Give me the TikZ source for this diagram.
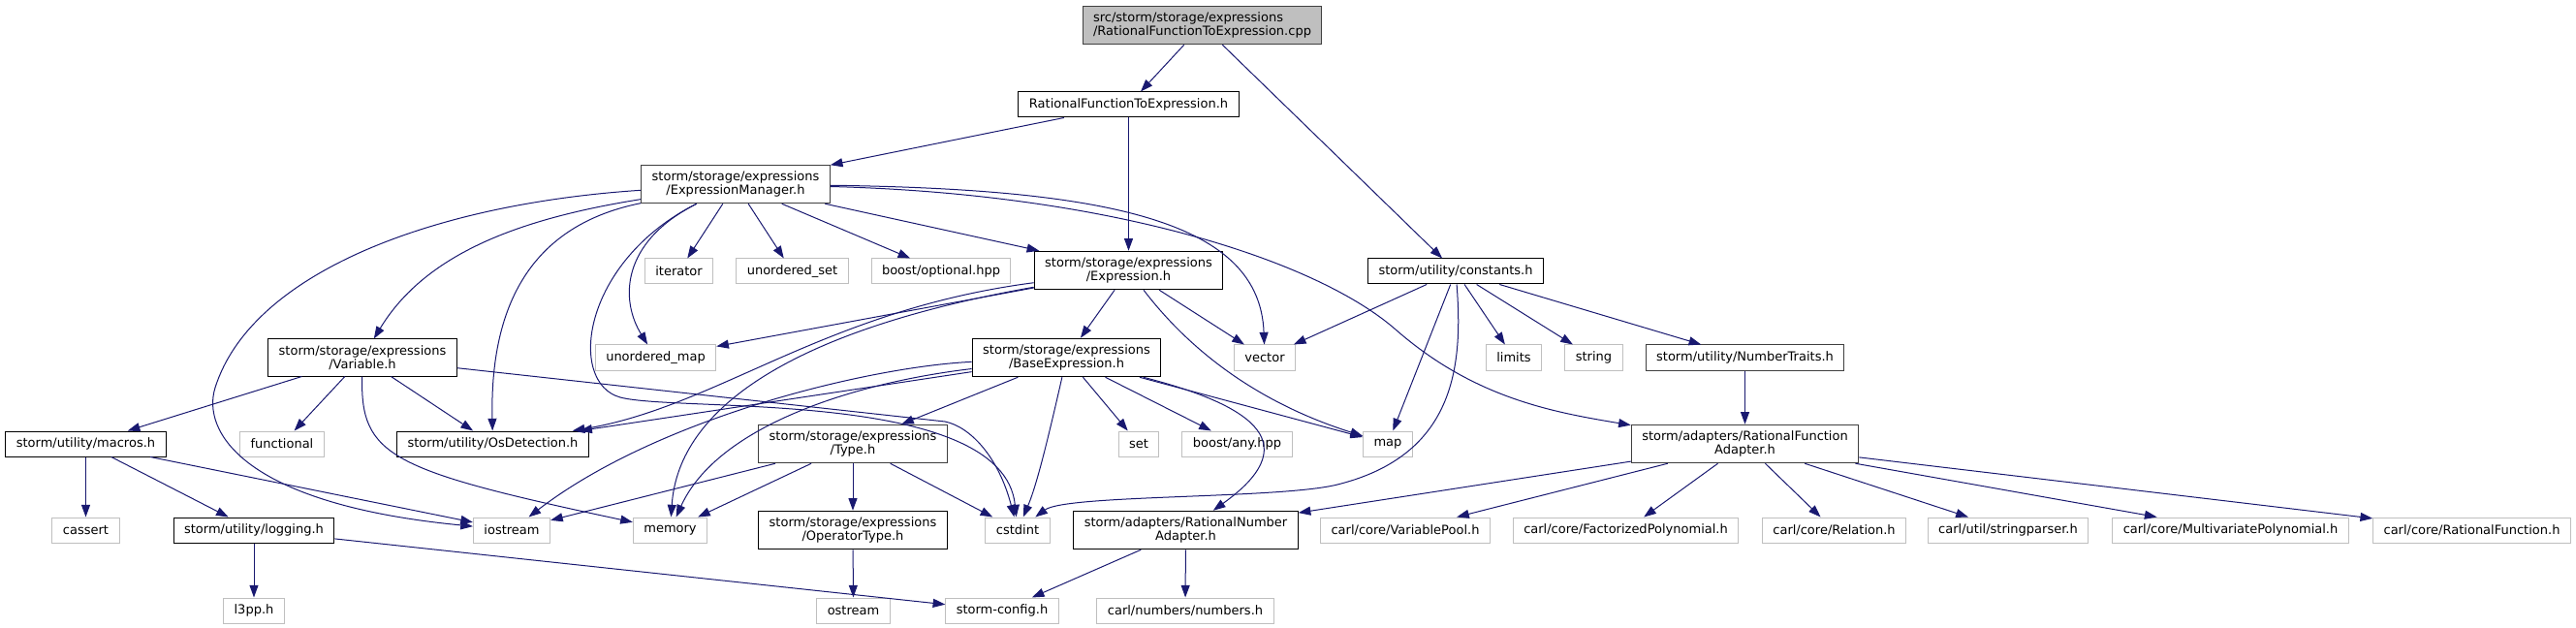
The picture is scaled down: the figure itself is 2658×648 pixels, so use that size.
\documentclass[tikz,border=0pt]{standalone}
\usepackage{xcolor}
\usepackage{fontspec}
\setmainfont{DejaVu Sans}
\usepackage{tikz}
\usetikzlibrary{arrows.meta}
\definecolor{edgeblue}{HTML}{191970}
\definecolor{rimgrey}{HTML}{404040}
\definecolor{extgrey}{HTML}{BFBFBF}

\begin{document}
\begin{tikzpicture}[
    x=0.75pt, y=-0.75pt,
    file/.style={draw, line width=0.75pt, inner xsep=8.25pt, inner ysep=4.6pt, minimum height=19.5pt, font=\fontsize{9.75}{11}\selectfont, align=center},
    hdr/.style={file, draw=black},
    hdrg/.style={file, draw=rimgrey},
    ext/.style={file, draw=extgrey},
    src/.style={file, draw=rimgrey, fill=extgrey, align=left},
    inc/.style={draw=edgeblue, line width=0.75pt, -{Triangle[length=9.5pt, width=6.75pt]}},
]
    \useasboundingbox (0, 0) rectangle (2658, 648);

    \node[src] (root) at (1240.5, 26) {src/storm/storage/expressions\\/RationalFunctionToExpression.cpp};

    \node[hdr] (rfte) at (1164.5, 108) {RationalFunctionToExpression.h};

    \node[hdrg] (em) at (759, 190) {storm/storage/expressions\\/ExpressionManager.h};

    \node[ext] (iterator) at (700.5, 280) {iterator};
    \node[ext] (uset) at (817.5, 280) {unordered\_set};
    \node[ext] (boostopt) at (971, 280) {boost/optional.hpp};
    \node[hdr] (expr) at (1164.5, 279) {storm/storage/expressions\\/Expression.h};
    \node[hdr] (constants) at (1502, 280) {storm/utility/constants.h};

    \node[hdr] (var) at (374, 369) {storm/storage/expressions\\/Variable.h};
    \node[ext] (umap) at (676.5, 369) {unordered\_map};
    \node[hdr] (baseexpr) at (1100.5, 369) {storm/storage/expressions\\/BaseExpression.h};
    \node[ext] (vector) at (1305, 369) {vector};
    \node[ext] (limits) at (1562, 369) {limits};
    \node[ext] (string) at (1644.5, 369) {string};
    \node[hdrg] (numtraits) at (1800.5, 369) {storm/utility/NumberTraits.h};

    \node[hdr] (macros) at (88.5, 458) {storm/utility/macros.h};
    \node[ext] (functional) at (291, 458) {functional};
    \node[hdr] (osdet) at (508.5, 458) {storm/utility/OsDetection.h};
    \node[hdrg] (type) at (880, 458) {storm/storage/expressions\\/Type.h};
    \node[ext] (set) at (1175, 458) {set};
    \node[ext] (boostany) at (1276.5, 458) {boost/any.hpp};
    \node[ext] (map) at (1432, 458) {map};
    \node[hdrg] (rfa) at (1800.5, 458) {storm/adapters/RationalFunction\\Adapter.h};

    \node[ext] (cassert) at (88.5, 547) {cassert};
    \node[hdr] (logging) at (262, 547) {storm/utility/logging.h};
    \node[ext] (iostream) at (528, 547) {iostream};
    \node[ext] (memory) at (691.5, 547) {memory};
    \node[hdr] (optype) at (880, 547) {storm/storage/expressions\\/OperatorType.h};
    \node[ext] (cstdint) at (1050, 547) {cstdint};
    \node[hdr] (rna) at (1223.5, 547) {storm/adapters/RationalNumber\\Adapter.h};
    \node[ext] (varpool) at (1450, 547) {carl/core/VariablePool.h};
    \node[ext] (factpoly) at (1677.5, 547) {carl/core/FactorizedPolynomial.h};
    \node[ext] (relation) at (1892.5, 547) {carl/core/Relation.h};
    \node[ext] (strparser) at (2072, 547) {carl/util/stringparser.h};
    \node[ext] (multipoly) at (2301.5, 547) {carl/core/MultivariatePolynomial.h};
    \node[ext] (ratfunc) at (2550.5, 547) {carl/core/RationalFunction.h};

    \node[ext] (l3pp) at (262, 630) {l3pp.h};
    \node[ext] (ostream) at (880.5, 630) {ostream};
    \node[ext] (stormconfig) at (1034, 630) {storm-config.h};
    \node[ext] (numbers) at (1223, 630) {carl/numbers/numbers.h};

    \draw[inc] (root) -- (rfte);
    \draw[inc] (root) -- (constants);
    \draw[inc] (rfte) -- (em);
    \draw[inc] (rfte) -- (expr);

    \draw[inc] (em) -- (iterator);
    \draw[inc] (em) -- (uset);
    \draw[inc] (em) -- (boostopt);
    \draw[inc] (em) -- (expr);
    \draw[inc] (em) .. controls (1150, 195) and (1300, 230) .. (vector);
    \draw[inc] (em) .. controls (1150, 200) and (1360, 270) .. (1440, 340) .. controls (1520, 410) and (1600, 425) .. (rfa);
    \draw[inc] (em) .. controls (540, 225) and (440, 260) .. (var);
    \draw[inc] (em) .. controls (560, 230) and (505, 300) .. (osdet);
    \draw[inc] (em) .. controls (450, 210) and (260, 280) .. (222, 400) .. controls (208, 445) and (250, 520) .. (iostream);
    \draw[inc] (em) .. controls (640, 250) and (640, 310) .. (umap);
    \draw[inc] (em) .. controls (600, 270) and (585, 395) .. (640, 410) .. controls (700, 426) and (1035, 400) .. (cstdint);

    \draw[inc] (expr) -- (umap);
    \draw[inc] (expr) .. controls (850, 320) and (740, 420) .. (osdet);
    \draw[inc] (expr) .. controls (820, 340) and (700, 420) .. (memory);
    \draw[inc] (expr) -- (baseexpr);
    \draw[inc] (expr) -- (vector);
    \draw[inc] (expr) .. controls (1215, 345) and (1280, 410) .. (map);

    \draw[inc] (baseexpr) -- (osdet);
    \draw[inc] (baseexpr) .. controls (900, 378) and (680, 430) .. (iostream);
    \draw[inc] (baseexpr) .. controls (880, 395) and (740, 440) .. (memory);
    \draw[inc] (baseexpr) -- (type);
    \draw[inc] (baseexpr) .. controls (1082, 450) and (1070, 500) .. (cstdint);
    \draw[inc] (baseexpr) -- (set);
    \draw[inc] (baseexpr) -- (boostany);
    \draw[inc] (baseexpr) -- (map);
    \draw[inc] (baseexpr) .. controls (1300, 420) and (1345, 460) .. (rna);

    \draw[inc] (constants) -- (vector);
    \draw[inc] (constants) -- (map);
    \draw[inc] (constants) .. controls (1510, 380) and (1500, 470) .. (1380, 500) .. controls (1320, 515) and (1100, 510) .. (cstdint);
    \draw[inc] (constants) -- (limits);
    \draw[inc] (constants) -- (string);
    \draw[inc] (constants) -- (numtraits);
    \draw[inc] (numtraits) -- (rfa);

    \draw[inc] (var) -- (macros);
    \draw[inc] (var) -- (functional);
    \draw[inc] (var) -- (osdet);
    \draw[inc] (var) .. controls (372, 470) and (400, 485) .. (memory);
    \draw[inc] (var) -- (975, 435) .. controls (1000, 440) and (1030, 470) .. (cstdint);

    \draw[inc] (type) -- (iostream);
    \draw[inc] (type) -- (memory);
    \draw[inc] (type) -- (optype);
    \draw[inc] (type) -- (cstdint);
    \draw[inc] (optype) -- (ostream);

    \draw[inc] (macros) -- (cassert);
    \draw[inc] (macros) -- (logging);
    \draw[inc] (macros) -- (iostream);
    \draw[inc] (logging) -- (l3pp);
    \draw[inc] (logging) -- (stormconfig);

    \draw[inc] (rfa) -- (rna);
    \draw[inc] (rfa) -- (varpool);
    \draw[inc] (rfa) -- (factpoly);
    \draw[inc] (rfa) -- (relation);
    \draw[inc] (rfa) -- (strparser);
    \draw[inc] (rfa) -- (multipoly);
    \draw[inc] (rfa) -- (ratfunc);
    \draw[inc] (rna) -- (stormconfig);
    \draw[inc] (rna) -- (numbers);
\end{tikzpicture}
\end{document}
